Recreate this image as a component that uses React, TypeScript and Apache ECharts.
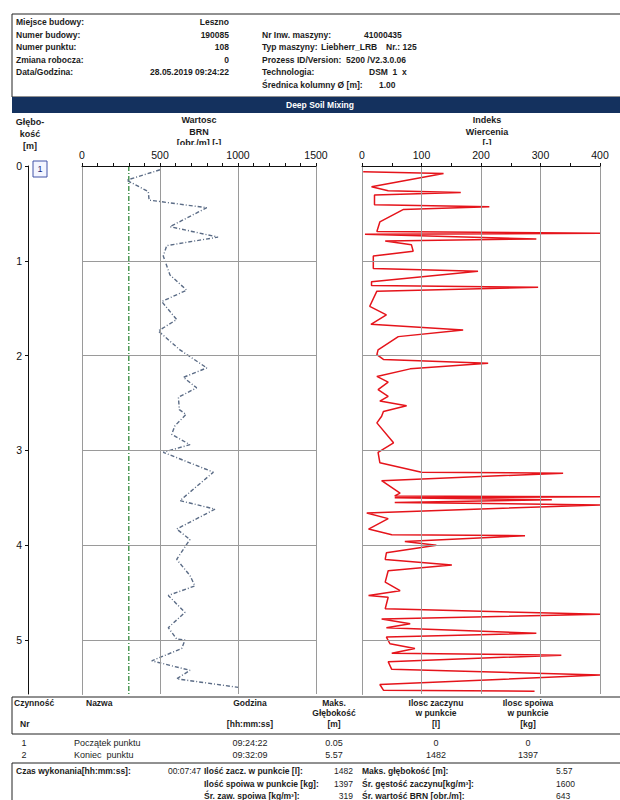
import React, { useEffect, useRef } from "react";
import * as echarts from "echarts";

// ---------- DATA ----------
const maxDepth = 5.57;
const depthLabels = [0, 1, 2, 3, 4, 5];
const depthGrid = [1, 2, 3, 4, 5];

const brnDepth = [0.04, 0.15, 0.27, 0.36, 0.44, 0.64, 0.75, 0.84, 0.95, 1.15, 1.31, 1.43, 1.62, 1.74, 1.94, 2.13, 2.23, 2.34, 2.44, 2.57, 2.62, 2.74, 2.83, 2.94, 3.02, 3.23, 3.53, 3.62, 3.83, 3.94, 4.15, 4.32, 4.43, 4.53, 4.71, 4.87, 4.99, 5.0, 5.09, 5.22, 5.32, 5.41, 5.5];
const brnValue = [500, 286, 425, 430, 800, 564, 872, 543, 521, 564, 671, 511, 607, 489, 628, 800, 650, 735, 618, 624, 667, 596, 575, 692, 521, 842, 628, 853, 607, 692, 607, 692, 724, 553, 660, 553, 607, 660, 639, 447, 692, 607, 1002];
const brnRefValue = 300;

const idxDepth = [0.06, 0.08, 0.22, 0.26, 0.28, 0.305, 0.41, 0.43, 0.46, 0.59, 0.69, 0.71, 0.72, 0.77, 0.79, 0.83, 0.9, 0.95, 1.08, 1.11, 1.22, 1.26, 1.28, 1.32, 1.48, 1.57, 1.67, 1.73, 1.8, 1.94, 1.99, 2.04, 2.08, 2.14, 2.22, 2.28, 2.36, 2.43, 2.48, 2.53, 2.59, 2.64, 2.71, 2.92, 3.02, 3.13, 3.23, 3.24, 3.32, 3.45, 3.48, 3.49, 3.5, 3.52, 3.55, 3.575, 3.66, 3.72, 3.83, 3.89, 3.9, 3.96, 4.0, 4.08, 4.15, 4.21, 4.27, 4.39, 4.48, 4.53, 4.55, 4.67, 4.73, 4.78, 4.83, 4.87, 4.93, 4.97, 5.04, 5.09, 5.14, 5.16, 5.23, 5.31, 5.37, 5.47, 5.53, 5.54];
const idxValue = [2, 137, 16, 44, 166, 21, 21, 214, 69, 30, 25, 400, 5, 293, 39, 83, 86, 19, 19, 195, 16, 16, 296, 25, 13, 41, 15, 170, 61, 27, 25, 36, 212, 81, 25, 44, 27, 44, 30, 75, 36, 33, 25, 53, 27, 30, 100, 338, 33, 64, 55, 400, 55, 319, 55, 400, 8, 44, 11, 50, 274, 72, 125, 41, 39, 151, 44, 39, 64, 11, 44, 39, 400, 33, 81, 41, 293, 41, 47, 89, 50, 335, 44, 50, 400, 30, 36, 290];

const brnTicks = { min: 0, max: 1500, step: 500 };
const idxTicks = { min: 0, max: 400, step: 100 };

const headerLeftLabels = ["Miejsce budowy:", "Numer budowy:", "Numer punktu:", "Zmiana robocza:", "Data/Godzina:"];
const headerLeftValues = ["Leszno", "190085", "108", "0", "28.05.2019 09:24:22"];
const headerRightLabels = ["Nr Inw. maszyny:", "Typ maszyny:", "Prozess ID/Version:", "Technologia:", "Średnica kolumny Ø [m]:"];
const headerRightValues = ["41000435", "Liebherr_LRB", "5200 /V2.3.0.06", "DSM  1  x", "1.00"];
const machineNr = "Nr.: 125";
const bannerTitle = "Deep Soil Mixing";

const colTitleDepth = ["Głębo-", "kość", "[m]"];
const colTitleBrn = ["Wartosc", "BRN", "[obr./m] [-]"];
const colTitleIdx = ["Indeks", "Wiercenia", "[-]"];
const pointMarker = "1";

const tableHeaders = [
  ["Godzina", "", "[hh:mm:ss]"],
  ["Maks.", "Głębokość", "[m]"],
  ["Ilosc zaczynu", "w punkcie", "[l]"],
  ["Ilosc spoiwa", "w punkcie", "[kg]"],
];
const tableRows = [
  ["1", "Początek punktu", "09:24:22", "0.05", "0", "0"],
  ["2", "Koniec  punktu", "09:32:09", "5.57", "1482", "1397"],
];
const summaryCol1 = [["Czas wykonania[hh:mm:ss]:", "00:07:47"]];
const summaryCol2 = [["Ilość zacz. w punkcie [l]:", "1482"], ["Ilość spoiwa w punkcie [kg]:", "1397"], ["Śr. zaw. spoiwa [kg/m³]:", "319"]];
const summaryCol3 = [["Maks. głębokość [m]:", "5.57"], ["Śr. gęstość zaczynu[kg/m³]:", "1600"], ["Śr. wartość BRN [obr./m]:", "643"]];

// ---------- LAYOUT ----------
const FONT = "'Liberation Sans', Arial, sans-serif";
const TXT = "#1c1c1c";
const GRID_TOP = 166;
const GRID_H = 528;

function T(x: number, y: number, text: string, o: any = {}) {
  return {
    type: "text",
    x,
    y,
    z: o.z ?? 1,
    style: {
      text,
      fontSize: o.size ?? 8.5,
      fontWeight: o.weight ?? "bold",
      fontFamily: FONT,
      fill: o.fill ?? TXT,
      align: o.align ?? "left",
      verticalAlign: "middle",
    },
  };
}

function buildGraphics() {
  const g: any[] = [];
  // header box
  g.push({ type: "rect", z: 0, shape: { x: 12, y: 14, width: 620, height: 83 }, style: { fill: "#fff", stroke: "#222", lineWidth: 1 } });
  g.push({ type: "rect", z: 0, shape: { x: 12, y: 97, width: 620, height: 16 }, style: { fill: "#14315e" } });
  g.push(T(320, 105, bannerTitle, { align: "center", fill: "#fff" }));
  const lRows = [22, 35, 47, 60, 72];
  headerLeftLabels.forEach((s, i) => g.push(T(16, lRows[i], s)));
  headerLeftValues.forEach((s, i) => g.push(T(229, lRows[i], s, { align: "right" })));
  const rRows = [35, 47, 60, 72, 85];
  const rValX = [364, 321, 346, 369, 379];
  headerRightLabels.forEach((s, i) => g.push(T(262, rRows[i], s)));
  headerRightValues.forEach((s, i) => g.push(T(rValX[i], rRows[i], s)));
  g.push(T(386, rRows[1], machineNr));

  // column titles
  const tRows = [120, 132, 142.5];
  colTitleDepth.forEach((s, i) => g.push(T(30, [122, 134, 146][i], s, { align: "center", size: 9 })));
  colTitleBrn.forEach((s, i) => g.push(T(199, tRows[i], s, { align: "center", size: 9 })));
  colTitleIdx.forEach((s, i) => g.push(T(487, tRows[i], s, { align: "center", size: 9 })));
  // white band hiding the lower part of the third title line (as in the printout)
  g.push({ type: "rect", z: 2, shape: { x: 70, y: 145, width: 540, height: 15 }, style: { fill: "#fff" } });

  // point marker box
  g.push({ type: "rect", z: 3, shape: { x: 33, y: 161, width: 14, height: 16 }, style: { fill: "#f3f5ff", stroke: "#4153a8", lineWidth: 1 } });
  g.push(T(40, 169, pointMarker, { align: "center", weight: "normal", size: 9, fill: "#1b2b80", z: 4 }));

  // table 1
  g.push({ type: "rect", z: 0, shape: { x: 12, y: 697, width: 620, height: 37 }, style: { fill: "none", stroke: "#222", lineWidth: 1 } });
  g.push(T(14, 703, "Czynność"));
  g.push(T(20, 724, "Nr"));
  g.push(T(86, 703, "Nazwa"));
  const cx = [250, 334, 436, 528];
  const hRows = [703, 713, 724];
  tableHeaders.forEach((col, c) => col.forEach((s, r) => s && g.push(T(cx[c], hRows[r], s, { align: "center" }))));
  const rowY = [743, 755];
  tableRows.forEach((row, r) => {
    g.push(T(24, rowY[r], row[0], { align: "center", weight: "normal", size: 9 }));
    g.push(T(74, rowY[r], row[1], { weight: "normal", size: 9 }));
    for (let c = 0; c < 4; c++) g.push(T(cx[c], rowY[r], row[c + 2], { align: "center", weight: "normal", size: 9 }));
  });

  // table 2
  g.push({ type: "rect", z: 0, shape: { x: 12, y: 763, width: 620, height: 50 }, style: { fill: "none", stroke: "#222", lineWidth: 1 } });
  const sRows = [771, 784, 796];
  summaryCol1.forEach(([a, b], i) => { g.push(T(16, sRows[i], a)); g.push(T(201, sRows[i], b, { align: "right", weight: "normal" })); });
  summaryCol2.forEach(([a, b], i) => { g.push(T(204, sRows[i], a)); g.push(T(353, sRows[i], b, { align: "right", weight: "normal" })); });
  summaryCol3.forEach(([a, b], i) => { g.push(T(362, sRows[i], a)); g.push(T(556, sRows[i], b, { weight: "normal" })); });
  return g;
}

function valueXAxis(grid: number, t: { min: number; max: number; step: number }, minorSplit: number) {
  return {
    type: "value",
    gridIndex: grid,
    position: "top",
    min: t.min,
    max: t.max,
    interval: t.step,
    z: 5,
    axisLine: { show: true, onZero: false, lineStyle: { color: "#111", width: 1 } },
    axisTick: { show: true, length: 3, lineStyle: { color: "#111" } },
    minorTick: { show: true, splitNumber: minorSplit, length: 3, lineStyle: { color: "#111" } },
    axisLabel: { fontSize: 10.5, color: "#111", margin: 6, fontFamily: FONT, formatter: (v: number) => String(v) },
    splitLine: { show: true, lineStyle: { color: "#9a9a9a", width: 1 } },
    minorSplitLine: { show: false },
  };
}

function depthYAxis(grid: number, showLabels: boolean) {
  return {
    type: "value",
    gridIndex: grid,
    inverse: true,
    min: 0,
    max: maxDepth,
    interval: 1,
    axisLine: { show: true, onZero: false, lineStyle: { color: "#111", width: 1 } },
    axisTick: showLabels ? { show: true, length: 3, customValues: depthLabels, lineStyle: { color: "#111" } } : { show: false },
    axisLabel: showLabels ? { show: true, customValues: depthLabels, fontSize: 10.5, color: "#111", margin: 6, fontFamily: FONT } : { show: false },
    splitLine: { show: false },
  };
}

const gridMark = {
  silent: true,
  symbol: "none",
  label: { show: false },
  lineStyle: { color: "#9a9a9a", width: 1, type: "solid" },
  data: depthGrid.map((d) => ({ yAxis: d })),
};

export default function App() {
  const ref = useRef<HTMLDivElement>(null);
  useEffect(() => {
    if (!ref.current) return;
    const chart = echarts.init(ref.current, undefined, { renderer: "svg" });
    chart.setOption({
      animation: false,
      backgroundColor: "#fff",
      textStyle: { fontFamily: FONT },
      grid: [
        { left: 28, top: GRID_TOP, width: 1, height: GRID_H },
        { left: 82, top: GRID_TOP, width: 234, height: GRID_H },
        { left: 362, top: GRID_TOP, width: 238, height: GRID_H },
      ],
      xAxis: [
        { type: "value", gridIndex: 0, show: false, min: 0, max: 1 },
        valueXAxis(1, brnTicks, 5),
        valueXAxis(2, idxTicks, 2),
      ],
      yAxis: [depthYAxis(0, true), depthYAxis(1, false), depthYAxis(2, false)],
      series: [
        {
          type: "line",
          xAxisIndex: 1,
          yAxisIndex: 1,
          showSymbol: false,
          symbol: "none",
          z: 1,
          data: [[brnRefValue, 0], [brnRefValue, maxDepth]],
          lineStyle: { color: "#2f8a3a", width: 1.3, type: [5, 2, 1, 2] },
          markLine: gridMark,
        },
        {
          type: "line",
          xAxisIndex: 1,
          yAxisIndex: 1,
          symbol: "none",
          z: 3,
          data: brnDepth.map((d, i) => [brnValue[i], d]),
          lineStyle: { color: "#5b6c86", width: 1.4, type: [4, 2, 1, 2] },
        },
        {
          type: "line",
          xAxisIndex: 2,
          yAxisIndex: 2,
          symbol: "none",
          z: 3,
          data: idxDepth.map((d, i) => [idxValue[i], d]),
          lineStyle: { color: "#e5141b", width: 1.5 },
          markLine: gridMark,
        },
      ],
      graphic: buildGraphics(),
    });
    return () => chart.dispose();
  }, []);
  return <div ref={ref} style={{ position: "fixed", left: 0, top: 0, width: 620, height: 800, background: "#fff" }} />;
}
